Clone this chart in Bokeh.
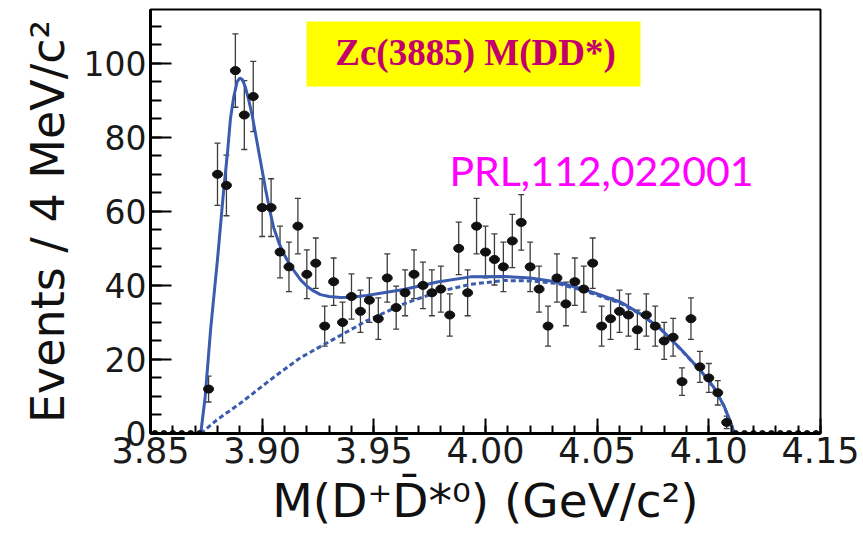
from bokeh.plotting import figure
from bokeh.models import (ColumnDataSource, Whisker, TeeHead, Label, BoxAnnotation,
                          FixedTicker, NumeralTickFormatter, Range1d)
from bokeh.embed import file_html
from bokeh.resources import INLINE

# ---------------- data ----------------
# M(D+ D*0) bin centres in GeV/c^2 (4 MeV bins) with non-zero content
mass = [3.876, 3.880, 3.884, 3.888, 3.892, 3.896, 3.900, 3.904, 3.908, 3.912,
        3.916, 3.920, 3.924, 3.928, 3.932, 3.936, 3.940, 3.944, 3.948, 3.952,
        3.956, 3.960, 3.964, 3.968, 3.972, 3.976, 3.980, 3.984, 3.988, 3.992,
        3.996, 4.000, 4.004, 4.008, 4.012, 4.016, 4.020, 4.024, 4.028, 4.032,
        4.036, 4.040, 4.044, 4.048, 4.052, 4.056, 4.060, 4.064, 4.068, 4.072,
        4.076, 4.080, 4.084, 4.088, 4.092, 4.096, 4.100, 4.104, 4.108]
events = [12, 70, 67, 98, 86, 91, 61, 61, 49, 45,
          56, 43, 46, 29, 41, 30, 37, 33, 36, 31,
          42, 34, 38, 43, 40, 38, 39, 32, 50, 38,
          56, 49, 47, 45, 52, 57, 45, 39, 29, 42,
          35, 41, 39, 46, 29, 31, 33, 32, 28, 32,
          29, 25, 26, 14, 31, 18, 15, 11, 3]
errors = [3.5, 8.4, 8.2, 9.9, 9.3, 9.5, 7.8, 7.8, 7.0, 6.7,
          7.5, 6.6, 6.8, 5.4, 6.4, 5.5, 6.1, 5.7, 6.0, 5.6,
          6.5, 5.8, 6.2, 6.6, 6.3, 6.2, 6.2, 5.7, 7.1, 6.2,
          7.5, 7.0, 6.9, 6.7, 7.2, 7.5, 6.7, 6.2, 5.4, 6.5,
          5.9, 6.4, 6.2, 6.8, 5.4, 5.6, 5.7, 5.7, 5.3, 5.7,
          5.4, 5.0, 5.1, 3.7, 5.6, 4.2, 3.9, 3.3, 1.7]
# empty bins
zero_mass = [3.852, 3.856, 3.860, 3.864, 3.868, 3.872,
             4.112, 4.116, 4.120, 4.124, 4.128, 4.132, 4.136, 4.140, 4.144, 4.148]
zero_events = [0] * len(zero_mass)

# total fit curve
fit_mass = [3.8725, 3.8745, 3.8769, 3.8800, 3.8828, 3.8845, 3.8858, 3.8873, 3.8888,
            3.8900, 3.8912, 3.8925, 3.8940, 3.8955, 3.8970, 3.8985, 3.9000, 3.9015,
            3.9035, 3.9052, 3.9075, 3.9097, 3.9120, 3.9142, 3.9172, 3.9202, 3.9230,
            3.9261, 3.9300, 3.9350, 3.9400, 3.9470, 3.9530, 3.9634, 3.9784, 3.9933,
            4.0082, 4.0201, 4.0321, 4.0440, 4.0515, 4.0605, 4.0694, 4.0784, 4.0873,
            4.0963, 4.1022, 4.1067, 4.1097, 4.1115]
fit_events = [0, 10, 28, 47, 66, 76, 85, 91, 95,
              96, 95.5, 93.5, 90, 86, 81, 76, 71, 66,
              60, 55.5, 51.5, 48.5, 46, 44, 41.5, 39.7, 38.5,
              37.5, 37, 36.7, 36.8, 37.3, 37.9, 38.9, 40.9, 42.3,
              42.4, 42.0, 40.9, 38.9, 37.4, 35.5, 32.3, 28.3, 22.9,
              17, 12.5, 7.6, 3.1, 0]
# background curve
bkg_mass = [3.8725, 3.8800, 3.8903, 3.9052, 3.9172, 3.9202, 3.9351, 3.9470, 3.9634,
            3.9784, 3.9933, 4.0082, 4.0201, 4.0321, 4.0440, 4.0560, 4.0605, 4.0694,
            4.0784, 4.0873, 4.0963, 4.1022, 4.1067, 4.1097, 4.1115]
bkg_events = [0, 3.8, 8.2, 15.2, 20.5, 21.5, 26.5, 30.5, 35,
              38.2, 40.3, 41.3, 41.2, 40.5, 38.6, 36.1, 35.2, 32.2,
              28.2, 22.8, 16.9, 12.4, 7.5, 3.0, 0]

x_ticks = [3.85, 3.90, 3.95, 4.00, 4.05, 4.10, 4.15]
y_ticks = [0, 20, 40, 60, 80, 100]
x_title = "M(D\u207aD\u0304*\u2070) (GeV/c\u00b2)"
y_title = "Events / 4 MeV/c\u00b2"

# ---------------- figure ----------------
FL, FB = 150, 433          # frame left / bottom in canvas pixels
p = figure(width=863, height=533, output_backend="svg", toolbar_location=None,
           x_range=Range1d(3.85, 4.15), y_range=Range1d(0, 114.5),
           min_border_left=FL, min_border_right=43, min_border_top=9,
           min_border_bottom=100)
p.background_fill_color = "white"
p.border_fill_color = "white"
p.outline_line_color = "black"
p.outline_line_width = 2
p.xgrid.visible = False
p.ygrid.visible = False

blue = "#3A5BAE"
# error bars
upper = [n + e for n, e in zip(events, errors)]
lower = [n - e for n, e in zip(events, errors)]
src = ColumnDataSource(dict(x=mass, y=events, upper=upper, lower=lower))
wh = Whisker(base="x", upper="upper", lower="lower", source=src, dimension="height",
             line_color="#3c3c3c", line_width=1.3,
             upper_head=TeeHead(size=6, line_color="#3c3c3c", line_width=1.3),
             lower_head=TeeHead(size=6, line_color="#3c3c3c", line_width=1.3))
p.add_layout(wh)

p.line(bkg_mass, bkg_events, line_color=blue, line_width=3, line_dash="5 3")
p.line(fit_mass, fit_events, line_color=blue, line_width=3)

p.ellipse(x="x", y="y", width=10, height=8, width_units="screen", height_units="screen",
          fill_color="#111111", line_color="#111111", source=src)
p.ellipse(zero_mass, zero_events, width=6, height=6, width_units="screen",
          height_units="screen", fill_color="#111111", line_color="#111111")

# axes
for ax in (p.xaxis[0], p.yaxis[0]):
    ax.axis_line_width = 3
    ax.axis_line_color = "black"
    ax.major_tick_line_color = "black"
    ax.minor_tick_line_color = "black"
    ax.major_tick_line_width = 2
    ax.minor_tick_line_width = 2
    ax.major_tick_out = 0
    ax.minor_tick_out = 0
    ax.major_label_text_font = "DejaVu Sans"
    ax.major_label_text_color = "#1a1a1a"
    ax.axis_label_text_font = "DejaVu Sans"
    ax.axis_label_text_font_style = "normal"
    ax.axis_label_text_color = "#111111"

p.xaxis.ticker = FixedTicker(ticks=x_ticks,
                             minor_ticks=[3.85 + 0.01 * i for i in range(31)])
p.xaxis.formatter = NumeralTickFormatter(format="0.00")
p.xaxis.major_tick_in = 15
p.xaxis.minor_tick_in = 8
p.xaxis.major_label_text_font_size = "35px"
p.xaxis.major_label_standoff = 3
p.xaxis.axis_label = x_title
p.xaxis.axis_label_text_font_size = "47px"
p.xaxis.axis_label_standoff = 7

p.yaxis.ticker = FixedTicker(ticks=y_ticks, minor_ticks=[5 * i for i in range(24)])
p.yaxis.major_tick_in = 21
p.yaxis.minor_tick_in = 11
p.yaxis.major_label_text_font_size = "33px"
p.yaxis.major_label_standoff = 4
p.yaxis.axis_label = y_title
p.yaxis.axis_label_text_font_size = "46px"
p.yaxis.axis_label_standoff = 6


def put(text, cx, cy, size, style="normal", font="DejaVu Sans",
        color="#111111", align="left", baseline="alphabetic"):
    p.add_layout(Label(x=cx - FL, y=FB - cy, x_units="screen", y_units="screen",
                       text=text, text_font=font, text_font_size=f"{size}px",
                       text_font_style=style, text_color=color,
                       text_align=align, text_baseline=baseline))


# yellow title box
p.add_layout(BoxAnnotation(left=306 - FL, right=640 - FL, top=FB - 21, bottom=FB - 86,
                           left_units="screen", right_units="screen",
                           top_units="screen", bottom_units="screen",
                           fill_color="#FFFF00", fill_alpha=1, line_alpha=0))
put("Zc(3885) M(DD*)", 475, 52, 37, style="bold", font="Liberation Serif",
    color="#C4006C", align="center", baseline="middle")

put("PRL,112,022001", 449, 145, 41, font="Lato", color="#FF00FF", baseline="top")

open("out.html", "w").write(file_html(p, INLINE))
